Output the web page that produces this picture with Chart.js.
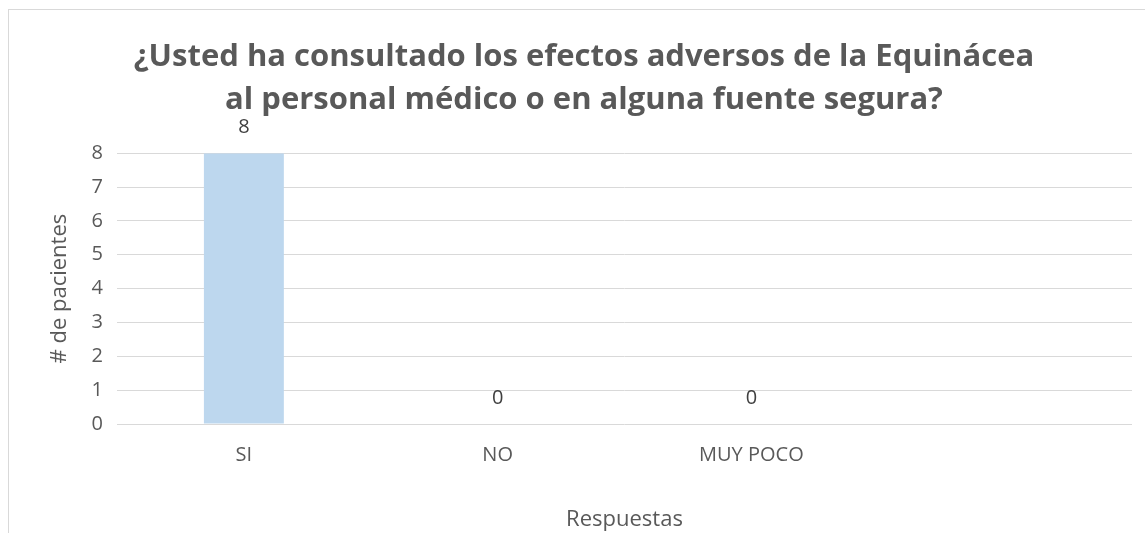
<!DOCTYPE html>
<html>
<head>
<meta charset="utf-8">
<script src="https://cdn.jsdelivr.net/npm/chart.js@4.4.1/dist/chart.umd.min.js"></script>
<style>
html,body{margin:0;padding:0;background:#fff;}
#wrap{position:absolute;left:0;top:0;width:1145px;height:533px;}
#frame{position:absolute;left:8px;top:9px;width:1200px;height:600px;border-left:1px solid #d9d9d9;border-top:1px solid #d9d9d9;}
canvas{position:absolute;left:0;top:0;}
</style>
</head>
<body>
<div id="wrap"><div id="frame"></div><canvas id="c" width="1145" height="533"></canvas></div>
<script>
const categories = ["SI", "NO", "MUY POCO", ""];
const pacientes = [8, 0, 0, null];
const yTicks = [0, 1, 2, 3, 4, 5, 6, 7, 8];
const titleLines = ["¿Usted ha consultado los efectos adversos de la Equinácea", "al personal médico o en alguna fuente segura?"];

const FONT = "'Open Sans', 'DejaVu Sans', sans-serif";

const valueLabels = {
  id: 'valueLabels',
  afterDatasetsDraw(chart) {
    const ctx = chart.ctx;
    const meta = chart.getDatasetMeta(0);
    ctx.save();
    ctx.font = "20px " + FONT;
    ctx.fillStyle = "#404040";
    ctx.textAlign = "center";
    ctx.textBaseline = "middle";
    meta.data.forEach((el, i) => {
      const v = pacientes[i];
      if (v === null || v === undefined) return;
      ctx.fillText(String(v), el.x, el.y - 26);
    });
    ctx.restore();
  }
};

new Chart(document.getElementById('c'), {
  type: 'bar',
  data: {
    labels: categories,
    datasets: [{
      data: pacientes,
      backgroundColor: '#bdd7ee',
      borderWidth: 0,
      barPercentage: 0.315,
      categoryPercentage: 1.0
    }]
  },
  options: {
    responsive: false,
    animation: false,
    devicePixelRatio: 1,
    layout: { padding: { left: 36, right: 13, top: 0, bottom: 0 } },
    plugins: {
      legend: { display: false },
      tooltip: { enabled: false },
      title: {
        display: true,
        text: titleLines,
        color: '#595959',
        font: { family: FONT, size: 31, weight: 'bold', lineHeight: 1.39 },
        padding: { top: 36, bottom: 31 }
      }
    },
    scales: {
      x: {
        grid: { display: false, drawTicks: false },
        border: { display: false },
        ticks: { color: '#595959', font: { family: FONT, size: 20 }, padding: 19 },
        title: { display: true, text: 'Respuestas', color: '#595959', font: { family: FONT, size: 22 }, padding: { top: 0, bottom: 0 } },
        afterFit(s) { s.height = 109; }
      },
      y: {
        min: 0, max: 8,
        afterBuildTicks(s) { s.ticks = yTicks.map(v => ({ value: v })); },
        grid: { color: '#d9d9d9', lineWidth: 1, drawTicks: false },
        border: { display: false },
        ticks: { color: '#595959', font: { family: FONT, size: 20 }, padding: 14 },
        title: { display: true, text: '# de pacientes', color: '#595959', font: { family: FONT, size: 22 }, padding: { top: 11, bottom: 0 } },
        afterFit(s) { s.width = 81; }
      }
    }
  },
  plugins: [valueLabels]
});
</script>
</body>
</html>
